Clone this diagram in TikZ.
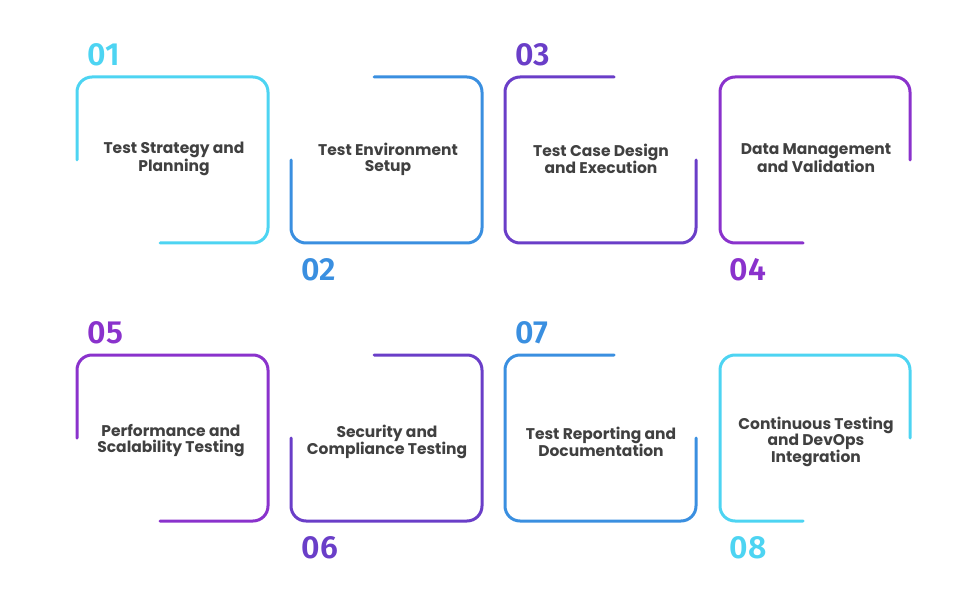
\documentclass[tikz,border=0pt]{standalone}
\usepackage{fontspec}
\setmainfont{Poppins}
\newfontfamily\numfont{Fira Sans}[UprightFont=* SemiBold]
\definecolor{ccyan}{HTML}{4DD4F2}
\definecolor{cblue}{HTML}{3A8FE0}
\definecolor{cviolet}{HTML}{6A3EC8}
\definecolor{cpurple}{HTML}{8A32CC}
\definecolor{ctext}{HTML}{404040}
\tikzset{
 frame/.style={line width=3pt, rounded corners=15pt, line cap=round},
 lbl/.style={text=ctext, font=\fontsize{15.5}{16}\selectfont\bfseries, align=center},
 num/.style={font=\numfont\fontsize{32}{32}\selectfont, anchor=west}
}
\begin{document}
\begin{tikzpicture}[x=1pt,y=-1pt]
\useasboundingbox (0,0) rectangle (970,596);
\foreach \r/\y in {0/0,1/278}{
 \pgfmathsetmacro{\ta}{77+\y}\pgfmathsetmacro{\tb}{243+\y}\pgfmathsetmacro{\tm}{160+\y}
}
% row 1
\draw[frame,ccyan] (77,160) -- (77,77) -- (268,77) -- (268,243) -- (160,243);
\draw[frame,cblue] (374,77) -- (482,77) -- (482,243) -- (291,243) -- (291,160);
\draw[frame,cviolet] (614,77) -- (505,77) -- (505,243) -- (696,243) -- (696,160);
\draw[frame,cpurple] (803,243) -- (720,243) -- (720,77) -- (910,77) -- (910,160);
% row 2
\draw[frame,cpurple] (77,438) -- (77,355) -- (268,355) -- (268,521) -- (160,521);
\draw[frame,cviolet] (374,355) -- (482,355) -- (482,521) -- (291,521) -- (291,438);
\draw[frame,cblue] (614,355) -- (505,355) -- (505,521) -- (696,521) -- (696,438);
\draw[frame,ccyan] (803,521) -- (720,521) -- (720,355) -- (910,355) -- (910,438);
% numbers
\node[num,text=ccyan] (n1) at (84,55) {01};
\node[num,text=cblue] (n2) at (298,270) {02};
\node[num,text=cviolet] (n3) at (512,55) {03};
\node[num,text=cpurple] (n4) at (726,270) {04};
\node[num,text=cpurple] (n5) at (84,333) {05};
\node[num,text=cviolet] (n6) at (298,548) {06};
\node[num,text=cblue] (n7) at (512,333) {07};
\node[num,text=ccyan] (n8) at (726,548) {08};
% labels
\node[lbl] (t1) at (174,159) {Test Strategy and\\Planning};
\node[lbl] (t2) at (388,159) {Test Environment\\Setup};
\node[lbl] (t3) at (601,159) {Test Case Design\\and Execution};
\node[lbl] (t4) at (816,158) {Data Management\\and Validation};
\node[lbl] (t5) at (171,441) {Performance and\\Scalability Testing};
\node[lbl] (t6) at (387,442) {Security and\\Compliance Testing};
\node[lbl] (t7) at (601,442) {Test Reporting and\\Documentation};
\node[lbl] (t8) at (816,442) {Continuous Testing\\and DevOps\\Integration};
\end{tikzpicture}
\end{document}
